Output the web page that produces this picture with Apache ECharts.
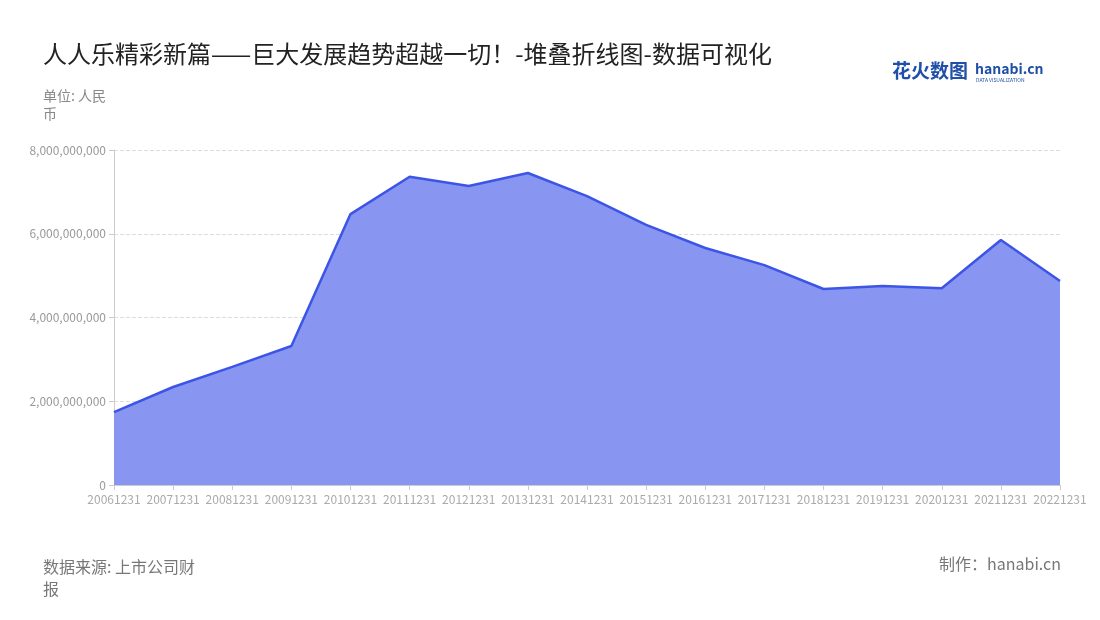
<!DOCTYPE html>
<html>
<head>
<meta charset="utf-8">
<script src="https://cdn.jsdelivr.net/npm/echarts@6/dist/echarts.min.js"></script>
<style>
html,body{margin:0;padding:0;background:#fff;}
#chart{width:1100px;height:620px;}
</style>
</head>
<body>
<div id="chart"></div>
<script>
const categories = ['20061231','20071231','20081231','20091231','20101231','20111231','20121231','20131231','20141231','20151231','20161231','20171231','20181231','20191231','20201231','20211231','20221231'];
const revenue = [1.74e9, 2.34e9, 2.82e9, 3.32e9, 6.47e9, 7.36e9, 7.14e9, 7.45e9, 6.90e9, 6.21e9, 5.66e9, 5.25e9, 4.68e9, 4.75e9, 4.70e9, 5.85e9, 4.87e9];
const yTicks = { min: 0, max: 8e9, interval: 2e9 };

const chart = echarts.init(document.getElementById('chart'));
const font = '"Noto Sans CJK SC", "Noto Sans", sans-serif';
chart.setOption({
  backgroundColor: '#fff',
  textStyle: { fontFamily: font },
  title: {
    text: '人人乐精彩新篇——巨大发展趋势超越一切！-堆叠折线图-数据可视化',
    left: 38, top: 37,
    textStyle: { fontSize: 24, fontWeight: 'normal', color: '#222', fontFamily: font }
  },
  graphic: [
    { type: 'text', left: 43, top: 87, style: { text: '单位: 人民\n币', fill: '#888', fontSize: 14, lineHeight: 18, fontFamily: font } },
    { type: 'text', left: 43, top: 556, style: { text: '数据来源: 上市公司财\n报', fill: '#777', fontSize: 16, lineHeight: 22, fontFamily: font } },
    { type: 'text', right: 39, top: 556, style: { text: '制作：hanabi.cn', fill: '#777', fontSize: 16, fontFamily: font } },
    { type: 'text', left: 892, top: 61, style: { text: '花火数图', fill: '#1f4fa8', fontSize: 19, fontWeight: 'bold', fontFamily: font } },
    { type: 'text', left: 975, top: 62, style: { text: 'hanabi.cn', fill: '#1f4fa8', fontSize: 14, fontWeight: 'bold', fontFamily: font } },
    { type: 'text', left: 976, top: 78, style: { text: 'DATA VISUALIZATION', fill: '#1f4fa8', fontSize: 5, fontFamily: font } }
  ],
  grid: { left: 114, right: 40, top: 150, bottom: 135 },
  xAxis: {
    type: 'category',
    data: categories,
    boundaryGap: false,
    axisLine: { lineStyle: { color: '#ccc' } },
    axisTick: { show: true, alignWithLabel: true, lineStyle: { color: '#ccc' } },
    axisLabel: { interval: 0, color: '#aaa', fontSize: 12, margin: 8, fontFamily: font }
  },
  yAxis: {
    type: 'value',
    min: yTicks.min, max: yTicks.max, interval: yTicks.interval,
    axisLine: { show: true, lineStyle: { color: '#ccc' } },
    axisTick: { show: true, lineStyle: { color: '#ccc' } },
    axisLabel: { color: '#999', fontSize: 12, fontFamily: font, formatter: v => v.toLocaleString('en-US') },
    splitLine: { lineStyle: { color: '#ddd', type: 'dashed' } }
  },
  series: [{
    type: 'line',
    data: revenue,
    symbol: 'none',
    lineStyle: { color: '#3d55e6', width: 2.5 },
    areaStyle: { color: '#8896f2', opacity: 1 },
    itemStyle: { color: '#3d55e6' }
  }]
});
</script>
</body>
</html>
